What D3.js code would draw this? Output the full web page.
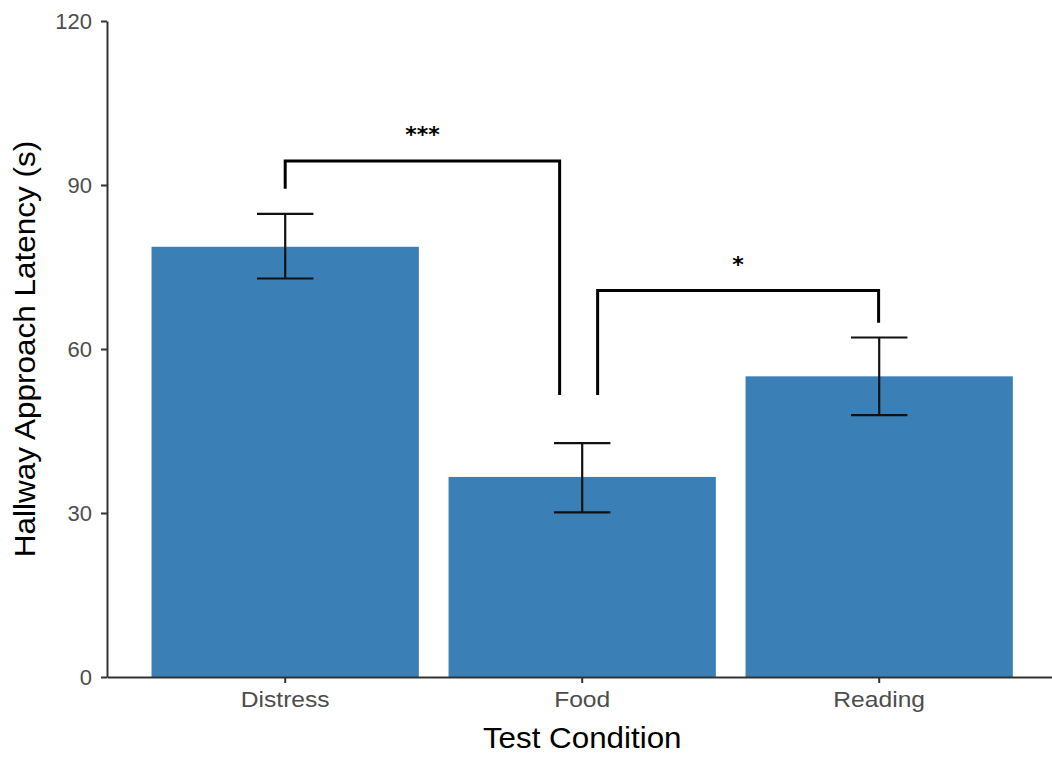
<!DOCTYPE html>
<html>
<head>
<meta charset="utf-8">
<script src="https://cdn.jsdelivr.net/npm/d3@7"></script>
<style>
  html, body { margin: 0; padding: 0; background: #fff; }
  svg { display: block; font-family: "Liberation Sans", Arial, sans-serif; }
</style>
</head>
<body>
<svg id="chart" width="1052" height="759"></svg>
<script>
// Mean hallway approach latency per test condition, with error bar limits
const conditions = ["Distress", "Food", "Reading"];
const latency = [78.7, 36.6, 55.0];
const errLow = [72.9, 30.1, 47.9];
const errHigh = [84.7, 42.8, 62.1];
const yTicks = [0, 30, 60, 90, 120];

// Significance brackets: positions in category units (1 = first category)
const bracketFrom = [1.0, 2.052];
const bracketTo = [1.924, 2.998];
const bracketTop = [94.4, 70.7];
const bracketLeftEnd = [89.3, 51.6];
const bracketRightEnd = [51.6, 64.8];
const bracketLabel = ["***", "*"];

const svg = d3.select("#chart");
const x0 = 107, x1 = 1057.4, yBottom = 677, yTop = 21;
const FONT = "Liberation Sans, Arial, sans-serif";

const x = d3.scaleBand().domain(conditions).range([x0, x1])
  .paddingInner(0.1).paddingOuter(0.15);
const step = x.step();
// continuous category position -> pixel
const xc = d3.scaleLinear().domain([1, 2])
  .range([x(conditions[0]) + x.bandwidth() / 2, x(conditions[1]) + x.bandwidth() / 2]);
const y = d3.scaleLinear().domain([0, 120]).range([yBottom, yTop]);

const data = conditions.map((c, i) => ({ c, v: latency[i], lo: errLow[i], hi: errHigh[i] }));

// bars
svg.append("g").selectAll("rect").data(data).join("rect")
  .attr("x", d => x(d.c))
  .attr("y", d => y(d.v))
  .attr("width", x.bandwidth())
  .attr("height", d => y(0) - y(d.v))
  .attr("fill", "#3a80b6");

// error bars
const ew = step * 0.19;
const eg = svg.append("g").attr("stroke", "#111").attr("stroke-width", 2.2).attr("fill", "none");
data.forEach(d => {
  const cx = x(d.c) + x.bandwidth() / 2;
  eg.append("line").attr("x1", cx).attr("x2", cx).attr("y1", y(d.lo)).attr("y2", y(d.hi));
  eg.append("line").attr("x1", cx - ew / 2).attr("x2", cx + ew / 2).attr("y1", y(d.hi)).attr("y2", y(d.hi));
  eg.append("line").attr("x1", cx - ew / 2).attr("x2", cx + ew / 2).attr("y1", y(d.lo)).attr("y2", y(d.lo));
});

// significance brackets
const bg = svg.append("g");
bracketLabel.forEach((lab, i) => {
  const xa = xc(bracketFrom[i]), xb = xc(bracketTo[i]);
  bg.append("path")
    .attr("d", `M${xa},${y(bracketLeftEnd[i])}V${y(bracketTop[i])}H${xb}V${y(bracketRightEnd[i])}`)
    .attr("fill", "none").attr("stroke", "#000").attr("stroke-width", 3);
  bg.append("text")
    .attr("x", (xa + xb) / 2).attr("y", y(bracketTop[i]) - 18.5)
    .attr("text-anchor", "middle")
    .attr("font-family", "DejaVu Sans, sans-serif")
    .attr("font-size", 22).attr("font-weight", "bold").attr("fill", "#000")
    .text(lab);
});

// y axis
const yAxis = svg.append("g").attr("transform", `translate(${x0},0)`)
  .call(d3.axisLeft(y).tickValues(yTicks).tickSize(6).tickPadding(9).tickSizeOuter(0));
yAxis.select(".domain").attr("stroke", "#333").attr("stroke-width", 2);
yAxis.selectAll(".tick line").attr("stroke", "#333").attr("stroke-width", 2);
yAxis.selectAll(".tick text").attr("fill", "#4d4d4d").attr("font-size", 22)
  .attr("font-family", FONT);

// x axis
const xAxis = svg.append("g").attr("transform", `translate(0,${yBottom})`)
  .call(d3.axisBottom(x).tickSize(6).tickPadding(8).tickSizeOuter(0));
xAxis.select(".domain").attr("stroke", "#333").attr("stroke-width", 2);
xAxis.selectAll(".tick line").attr("stroke", "#333").attr("stroke-width", 2);
xAxis.selectAll(".tick text").attr("fill", "#4d4d4d").attr("font-size", 22)
  .attr("font-family", FONT)
  .attr("transform", "scale(1.12,1)");

// axis titles
svg.append("text")
  .attr("transform", `translate(${xc(2)},748) scale(1.045,1)`)
  .attr("text-anchor", "middle").attr("font-size", 30).attr("fill", "#000")
  .text("Test Condition");
svg.append("text")
  .attr("transform", `translate(35,${(yTop + yBottom) / 2}) rotate(-90) scale(1.05,1)`)
  .attr("text-anchor", "middle").attr("font-size", 30).attr("fill", "#000")
  .text("Hallway Approach Latency (s)");
</script>
</body>
</html>
